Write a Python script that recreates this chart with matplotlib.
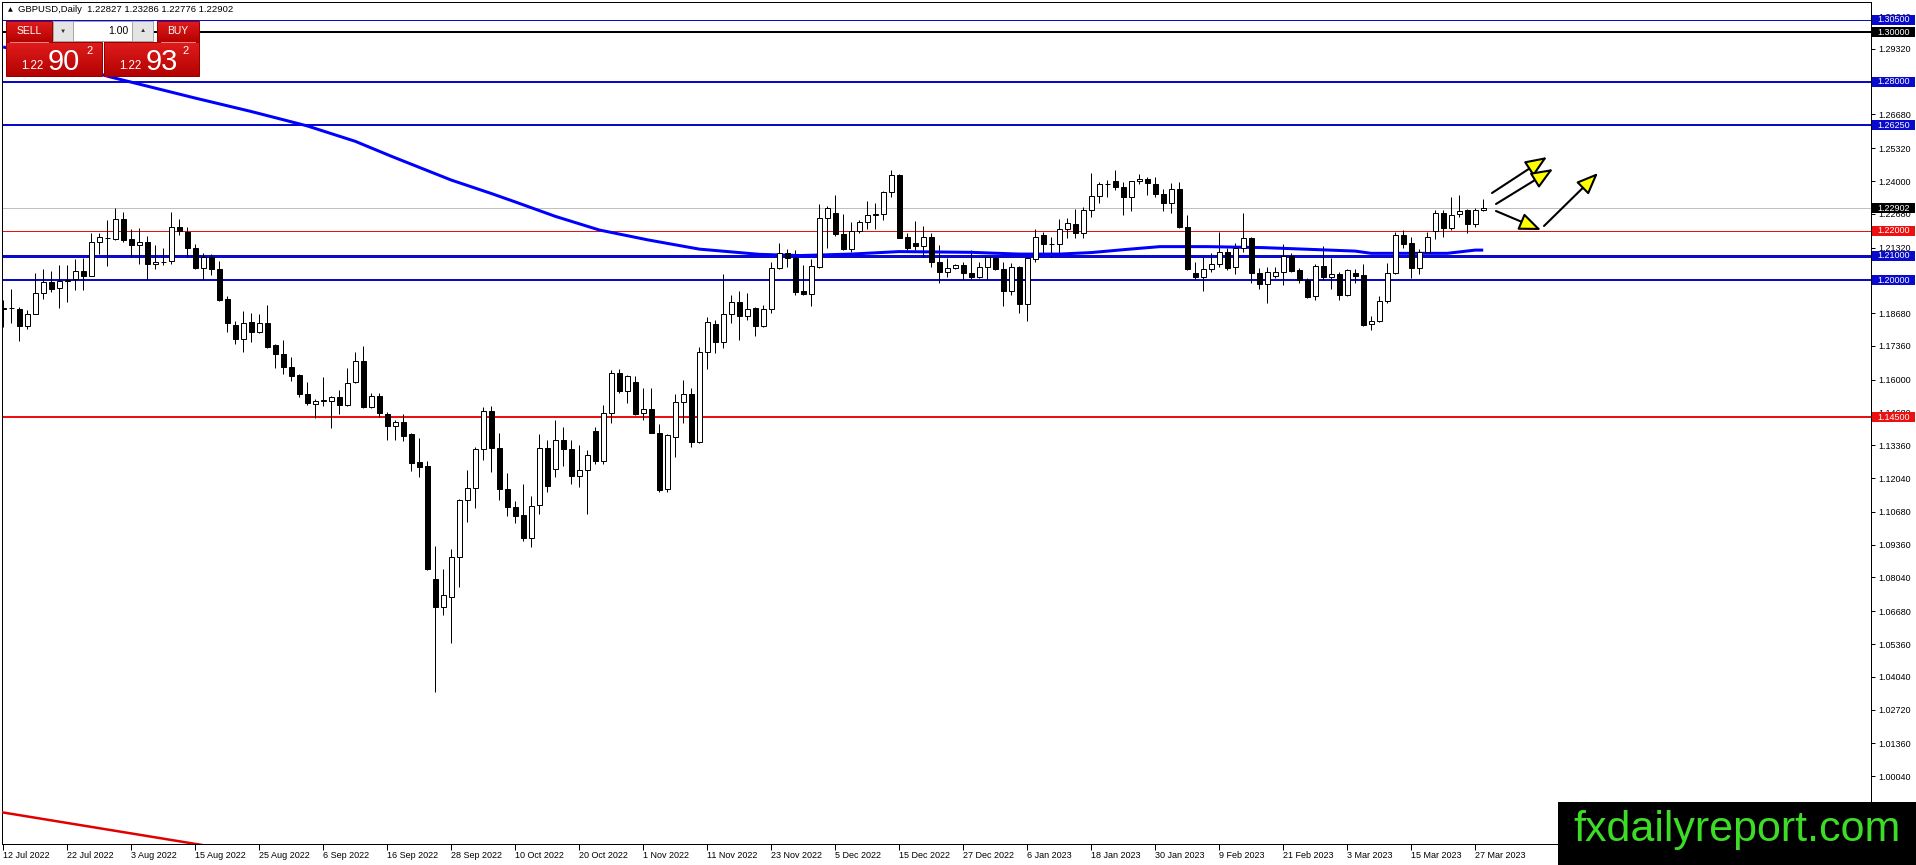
import matplotlib
matplotlib.use("Agg")
import matplotlib.pyplot as plt
import matplotlib.transforms as mtransforms
from matplotlib.patches import Rectangle
from matplotlib.colors import LinearSegmentedColormap
import numpy as np

plt.rcParams['font.family'] = ['Liberation Sans', 'DejaVu Sans']

W, H = 1916, 865

# daily GBPUSD bars, 12 Jul 2022 .. 28 Mar 2023
opens = [1.1886, 1.1889, 1.1885, 1.1818, 1.1863, 1.1948, 1.1992, 1.1968, 1.1999, 1.2004,
         1.2038, 1.2019, 1.2153, 1.2170, 1.2165, 1.2246, 1.2165, 1.2141, 1.2156, 1.2065,
         1.2074, 1.2078, 1.2214, 1.2196, 1.2129, 1.2049, 1.2093, 1.2045, 1.1925, 1.1821,
         1.1763, 1.1831, 1.1791, 1.1827, 1.1739, 1.1704, 1.1650, 1.1619, 1.1541, 1.1501,
         1.1515, 1.1516, 1.1529, 1.1498, 1.1592, 1.1677, 1.1489, 1.1536, 1.1462, 1.1414,
         1.1429, 1.1380, 1.1268, 1.1253, 1.0798, 1.0684, 1.0727, 1.0885, 1.1116, 1.1166,
         1.1320, 1.1474, 1.1324, 1.1159, 1.1087, 1.1056, 1.0964, 1.1095, 1.1324, 1.1239,
         1.1358, 1.1320, 1.1214, 1.1237, 1.1394, 1.1274, 1.1468, 1.1626, 1.1556, 1.1590,
         1.1465, 1.1481, 1.1387, 1.1159, 1.1368, 1.1509, 1.1541, 1.1351, 1.1711, 1.1825,
         1.1753, 1.1865, 1.1912, 1.1858, 1.1888, 1.1818, 1.1884, 1.2049, 1.2109, 1.2089,
         1.1957, 1.1944, 1.2053, 1.2250, 1.2273, 1.2187, 1.2125, 1.2200, 1.2234, 1.2263,
         1.2266, 1.2357, 1.2424, 1.2173, 1.2149, 1.2140, 1.2176, 1.2075, 1.2035, 1.2049,
         1.2062, 1.2028, 1.2012, 1.2053, 1.2089, 1.2046, 1.1959, 1.2053, 1.1905, 1.2085,
         1.2183, 1.2146, 1.2145, 1.2206, 1.2226, 1.2190, 1.2283, 1.2340, 1.2388, 1.2400,
         1.2375, 1.2334, 1.2400, 1.2407, 1.2388, 1.2348, 1.2310, 1.2367, 1.2216, 1.2028,
         1.2015, 1.2045, 1.2065, 1.2113, 1.2053, 1.2129, 1.2169, 1.2028, 1.1984, 1.2019,
         1.2035, 1.2098, 1.2042, 1.2002, 1.1939, 1.2058, 1.2015, 1.2026, 1.1941, 1.2028,
         1.2022, 1.1823, 1.1838, 1.1918, 1.2031, 1.2183, 1.2149, 1.2049, 1.2116, 1.2200,
         1.2273, 1.2212, 1.2266, 1.2283, 1.2227, 1.22827]
highs = [1.1921, 1.1965, 1.1894, 1.1881, 1.2030, 1.2046, 1.2038, 1.2061, 1.2062, 1.2085,
         1.2089, 1.2190, 1.2192, 1.2243, 1.2290, 1.2277, 1.2206, 1.2210, 1.2180, 1.2143,
         1.2129, 1.2274, 1.2247, 1.2216, 1.2145, 1.2112, 1.2105, 1.2080, 1.1937, 1.1837,
         1.1877, 1.1867, 1.1865, 1.1901, 1.1743, 1.1760, 1.1693, 1.1622, 1.1590, 1.1523,
         1.1610, 1.1536, 1.1559, 1.1646, 1.1710, 1.1736, 1.1545, 1.1548, 1.1472, 1.1438,
         1.1462, 1.1384, 1.1364, 1.1273, 1.0932, 1.0838, 1.0919, 1.1120, 1.1237, 1.1331,
         1.1492, 1.1494, 1.1384, 1.1223, 1.1112, 1.1179, 1.1133, 1.1380, 1.1358, 1.1438,
         1.1411, 1.1358, 1.1337, 1.1317, 1.1411, 1.1498, 1.1639, 1.1643, 1.1619, 1.1615,
         1.1568, 1.1568, 1.1422, 1.1380, 1.1541, 1.1599, 1.1568, 1.1731, 1.1854, 1.1841,
         1.2026, 1.1941, 1.1957, 1.1948, 1.1894, 1.1901, 1.2075, 1.2149, 1.2126, 1.2122,
         1.2062, 1.2085, 1.2308, 1.2300, 1.2344, 1.2267, 1.2236, 1.2243, 1.2320, 1.2313,
         1.2361, 1.2444, 1.2428, 1.2190, 1.2239, 1.2220, 1.2190, 1.2143, 1.2089, 1.2066,
         1.2075, 1.2122, 1.2075, 1.2096, 1.2093, 1.2075, 1.2069, 1.2056, 1.2096, 1.2206,
         1.2196, 1.2176, 1.2246, 1.2250, 1.2286, 1.2297, 1.2431, 1.2398, 1.2404, 1.2444,
         1.2398, 1.2402, 1.2428, 1.2415, 1.2415, 1.2367, 1.2391, 1.2398, 1.2263, 1.2075,
         1.2093, 1.2109, 1.2196, 1.2129, 1.2149, 1.2270, 1.2176, 1.2049, 1.2053, 1.2053,
         1.2145, 1.2112, 1.2049, 1.2008, 1.2066, 1.2139, 1.2089, 1.2035, 1.2046, 1.2046,
         1.2065, 1.1857, 1.1939, 1.2069, 1.2196, 1.2203, 1.2176, 1.2125, 1.2196, 1.2283,
         1.2283, 1.2337, 1.2344, 1.2286, 1.2290, 1.23286]
lows = [1.1814, 1.1827, 1.1757, 1.1803, 1.1863, 1.1924, 1.1952, 1.1888, 1.1914, 1.1961,
        1.1961, 1.2019, 1.2106, 1.2058, 1.2163, 1.2156, 1.2096, 1.2066, 1.2004, 1.2045,
        1.2062, 1.2066, 1.2183, 1.2096, 1.2045, 1.2004, 1.2022, 1.1918, 1.1791, 1.1743,
        1.1713, 1.1753, 1.1787, 1.1729, 1.1646, 1.1622, 1.1596, 1.1532, 1.1498, 1.1445,
        1.1494, 1.1404, 1.1461, 1.1494, 1.1588, 1.1486, 1.1485, 1.1451, 1.1357, 1.1357,
        1.1355, 1.1233, 1.1210, 1.0836, 1.0344, 1.0653, 1.0542, 1.0764, 1.1026, 1.1085,
        1.1277, 1.1227, 1.1116, 1.1053, 1.1022, 1.0952, 1.0925, 1.1058, 1.1150, 1.1210,
        1.1253, 1.1180, 1.1170, 1.1060, 1.1260, 1.1260, 1.1427, 1.1548, 1.1505, 1.1458,
        1.1438, 1.1384, 1.1150, 1.1147, 1.1290, 1.1427, 1.1331, 1.1345, 1.1643, 1.1709,
        1.1727, 1.1830, 1.1760, 1.1841, 1.1778, 1.1812, 1.1870, 1.2045, 1.2055, 1.1941,
        1.1942, 1.1898, 1.2049, 1.2129, 1.2179, 1.2122, 1.2116, 1.2190, 1.2206, 1.2207,
        1.2243, 1.2337, 1.2170, 1.2122, 1.2122, 1.2096, 1.2055, 1.1991, 1.2015, 1.2045,
        1.2006, 1.2006, 1.2008, 1.2006, 1.2042, 1.1898, 1.1941, 1.1867, 1.1838, 1.2075,
        1.2109, 1.2096, 1.2102, 1.2169, 1.2169, 1.2169, 1.2254, 1.2310, 1.2337, 1.2364,
        1.2263, 1.2281, 1.2390, 1.2344, 1.2337, 1.2281, 1.2270, 1.2212, 1.2042, 1.2004,
        1.1959, 1.2035, 1.2053, 1.2042, 1.2026, 1.2116, 1.1988, 1.1964, 1.1910, 1.2008,
        1.1981, 1.2035, 1.1988, 1.1928, 1.1921, 1.2002, 1.1964, 1.1921, 1.1939, 1.1991,
        1.1818, 1.1800, 1.1834, 1.1908, 1.2026, 1.2132, 1.2008, 1.2026, 1.2109, 1.2165,
        1.2176, 1.2203, 1.2257, 1.2190, 1.2216, 1.22776]
closes = [1.1890, 1.1887, 1.1818, 1.1863, 1.1948, 1.1992, 1.1967, 1.1999, 1.2001, 1.2038,
          1.2019, 1.2153, 1.2173, 1.2172, 1.2246, 1.2163, 1.2141, 1.2156, 1.2065, 1.2074,
          1.2075, 1.2214, 1.2200, 1.2129, 1.2049, 1.2093, 1.2045, 1.1921, 1.1827, 1.1763,
          1.1830, 1.1791, 1.1827, 1.1733, 1.1702, 1.1650, 1.1616, 1.1541, 1.1505, 1.1514,
          1.1517, 1.1529, 1.1498, 1.1586, 1.1677, 1.1489, 1.1536, 1.1465, 1.1414, 1.1429,
          1.1375, 1.1266, 1.1250, 1.0838, 1.0687, 1.0734, 1.0888, 1.1116, 1.1163, 1.1320,
          1.1474, 1.1324, 1.1159, 1.1089, 1.1053, 1.0964, 1.1093, 1.1324, 1.1172, 1.1358,
          1.1320, 1.1214, 1.1237, 1.1297, 1.1274, 1.1468, 1.1626, 1.1556, 1.1615, 1.1462,
          1.1481, 1.1387, 1.1156, 1.1378, 1.1509, 1.1541, 1.1351, 1.1711, 1.1831, 1.1753,
          1.1865, 1.1912, 1.1858, 1.1884, 1.1818, 1.1884, 1.2049, 1.2109, 1.2089, 1.1955,
          1.1946, 1.2058, 1.2250, 1.2290, 1.2185, 1.2125, 1.2200, 1.2234, 1.2263, 1.2266,
          1.2357, 1.2424, 1.2172, 1.2132, 1.2140, 1.2176, 1.2075, 1.2035, 1.2049, 1.2062,
          1.2028, 1.2015, 1.2053, 1.2093, 1.2045, 1.1959, 1.2053, 1.1905, 1.2089, 1.2176,
          1.2147, 1.2145, 1.2206, 1.2230, 1.2192, 1.2283, 1.2340, 1.2388, 1.2390, 1.2375,
          1.2334, 1.2400, 1.2407, 1.2391, 1.2347, 1.2313, 1.2367, 1.2216, 1.2046, 1.2012,
          1.2045, 1.2065, 1.2113, 1.2049, 1.2129, 1.2169, 1.2028, 1.1984, 1.2035, 1.2035,
          1.2098, 1.2039, 1.2002, 1.1935, 1.2058, 1.2015, 1.2024, 1.1941, 1.2042, 1.2019,
          1.1820, 1.1838, 1.1918, 1.2028, 1.2183, 1.2147, 1.2049, 1.2116, 1.2173, 1.2273,
          1.2212, 1.2263, 1.2281, 1.2227, 1.2283, 1.22902]

date_labels = ["12 Jul 2022", "22 Jul 2022", "3 Aug 2022", "15 Aug 2022", "25 Aug 2022",
               "6 Sep 2022", "16 Sep 2022", "28 Sep 2022", "10 Oct 2022", "20 Oct 2022",
               "1 Nov 2022", "11 Nov 2022", "23 Nov 2022", "5 Dec 2022", "15 Dec 2022",
               "27 Dec 2022", "6 Jan 2023", "18 Jan 2023", "30 Jan 2023", "9 Feb 2023",
               "21 Feb 2023", "3 Mar 2023", "15 Mar 2023", "27 Mar 2023"]

# moving average (blue curve), sampled along the line
ma_idx = [0, 13.4, 24, 31, 38, 44, 48.5, 56, 61, 64, 69, 74.5, 80.6, 87, 94.5, 99.6, 106,
          112, 121, 127, 132, 136, 140.5, 144.6, 150.5, 157.5, 162.5, 169, 171, 180.5, 184, 185]
ma_val = [1.2940, 1.2819, 1.2734, 1.2680, 1.2622, 1.2560, 1.2500, 1.2404, 1.2350, 1.2316,
          1.2258, 1.2203, 1.2163, 1.2126, 1.2105, 1.2100, 1.2106, 1.2116, 1.2113, 1.2106,
          1.2106, 1.2112, 1.2125, 1.2136, 1.2136, 1.2132, 1.2126, 1.2118, 1.2109, 1.2109,
          1.2122, 1.2122]

# trend line bottom-left
trend_x = [-0.4, 30]
trend_y = [0.9860, 0.9700]

ytick_vals = [1.30640, 1.29320, 1.28000, 1.26680, 1.25320, 1.24000, 1.22680, 1.21320,
              1.20000, 1.18680, 1.17360, 1.16000, 1.14680, 1.13360, 1.12040, 1.10680,
              1.09360, 1.08040, 1.06680, 1.05360, 1.04040, 1.02720, 1.01360, 1.00040]

BLUE = '#0a0acd'
RED = '#ec1010'
# level, colour, linewidth(px)
levels = [(1.30500, BLUE, 1), (1.30000, 'black', 2), (1.28000, BLUE, 2), (1.26250, BLUE, 2),
          (1.22000, RED, 1), (1.21000, BLUE, 3), (1.20000, BLUE, 2), (1.14500, RED, 2)]
last_price = 1.22902

fig = plt.figure(figsize=(W / 100, H / 100), dpi=100)
fig.patch.set_facecolor('white')
ax_l, ax_r, ax_t, ax_b = 2, 1871, 2, 844
ax = fig.add_axes([ax_l / W, (H - ax_b) / H, (ax_r - ax_l) / W, (ax_b - ax_t) / H])
px = 0.72  # one pixel in points

n = len(opens)
idx = np.arange(n)
o = np.array(opens); c = np.array(closes)
hi = np.array(highs); lo = np.array(lows)
up = c >= o

ax.axhline(last_price, color='#c0c0c0', lw=px, zorder=1)
for lev, col, lw in levels:
    ax.axhline(lev, color=col, lw=lw * px, zorder=1.5)

ax.vlines(idx, lo, hi, color='black', lw=px, zorder=3)
body_lo = np.minimum(o, c)
body_h = np.maximum(np.abs(c - o), 0.00002)
ax.bar(idx[up], body_h[up], bottom=body_lo[up], width=0.6, color='white',
       edgecolor='black', linewidth=px, zorder=4)
ax.bar(idx[~up], body_h[~up], bottom=body_lo[~up], width=0.6, color='black',
       edgecolor='black', linewidth=px, zorder=4)

ax.plot(ma_idx, ma_val, color='#0000ff', lw=3 * px, zorder=3.5, solid_capstyle='butt',
        solid_joinstyle='round')
ax.plot(trend_x, trend_y, color='#e00000', lw=2.5 * px, zorder=3)

ax.set_xlim(-0.15, (ax_r - ax_l) / 8 - 0.15)
ax.set_ylim(1.30 - (ax_b - 32) / 2484, 1.30 + (32 - ax_t) / 2484)

ax.set_xticks(np.arange(len(date_labels)) * 8)
ax.set_xticklabels(date_labels)
for lbl in ax.get_xticklabels():
    lbl.set_ha('left')
ax.tick_params(axis='x', length=4, width=px, pad=1, labelsize=6.5, direction='out')

ax.yaxis.tick_right()
ax.set_yticks(ytick_vals)
ax.set_yticklabels(['%.5f' % v for v in ytick_vals])
ax.tick_params(axis='y', length=3, width=px, pad=2.5, labelsize=6.5)
for s in ax.spines.values():
    s.set_linewidth(px)
    s.set_color('black')

# price labels on the right scale
blend = mtransforms.blended_transform_factory(ax.transAxes, ax.transData)
box_w = (1914 - ax_r) / (ax_r - ax_l)
box_h = 10 / 2484
tags = [(1.30500, BLUE), (1.30000, 'black'), (1.28000, BLUE), (1.26250, BLUE),
        (last_price, 'black'), (1.22000, RED), (1.21000, BLUE), (1.20000, BLUE),
        (1.14500, RED)]
for val, col in tags:
    ax.add_patch(Rectangle((1.0005, val - box_h / 2), box_w, box_h, transform=blend,
                           facecolor=col, edgecolor='none', clip_on=False, zorder=6))
    ax.text(1.0 + 6 / (ax_r - ax_l), val, '%.5f' % val, transform=blend, color='white',
            fontsize=6.5, ha='left', va='center', clip_on=False, zorder=7)

# overlay in pixel coordinates
ov = fig.add_axes([0, 0, 1, 1], zorder=10)
ov.set_xlim(0, W)
ov.set_ylim(H, 0)
ov.axis('off')

red_cmap = LinearSegmentedColormap.from_list('btn', ['#e01c1c', '#b40202'])
grad = np.linspace(0, 1, 64).reshape(-1, 1)


def red_box(x0, y0, w, h):
    ov.imshow(grad, extent=(x0, x0 + w, y0 + h, y0), cmap=red_cmap, aspect='auto',
              interpolation='bilinear', zorder=2)
    ov.add_patch(Rectangle((x0, y0), w, h, fill=False, edgecolor='#9a0000', lw=px, zorder=3))


red_box(6, 21, 46, 21)
red_box(6, 42, 96, 34)
red_box(157, 21, 42, 21)
red_box(104, 42, 95, 34)
ov.plot([10, 48], [41.5, 41.5], color='#f08080', lw=px, zorder=4)
ov.plot([161, 195], [41.5, 41.5], color='#f08080', lw=px, zorder=4)

ov.add_patch(Rectangle((53, 21), 100, 20, facecolor='white', edgecolor='#a0a0a0', lw=px, zorder=2))
ov.add_patch(Rectangle((53, 21), 20, 20, facecolor='#e4e4e4', edgecolor='#a8a8a8', lw=px, zorder=3))
ov.add_patch(Rectangle((132, 21), 21, 20, facecolor='#e4e4e4', edgecolor='#a8a8a8', lw=px, zorder=3))
ov.text(63, 31, '\u25bc', fontsize=4.5, ha='center', va='center', color='#303030', zorder=5)
ov.text(142.5, 31, '\u25b2', fontsize=4.5, ha='center', va='center', color='#303030', zorder=5)
ov.text(128, 31, '1.00', fontsize=7.5, ha='right', va='center', color='black', zorder=5)

ov.text(29, 31.5, 'SELL', fontsize=7.5, ha='center', va='center', color='white', zorder=5)
ov.text(178, 31.5, 'BUY', fontsize=7.5, ha='center', va='center', color='white', zorder=5)
for x_small, x_big, x_sup, big in [(21, 48, 86, '90'), (119, 146, 182, '93')]:
    ov.text(x_small, 69, '1.22', fontsize=8.3, ha='left', va='baseline', color='white', zorder=5)
    ov.text(x_big, 70, big, fontsize=21, ha='left', va='baseline', color='white', zorder=5)
    ov.text(x_sup, 46, '2', fontsize=8, ha='left', va='top', color='white', zorder=5)

ov.text(8, 10, '\u25b2', fontsize=4.5, ha='left', va='center', color='black',
        family='DejaVu Sans')
ov.text(18, 10, 'GBPUSD,Daily  1.22827 1.23286 1.22776 1.22902', fontsize=6.8,
        ha='left', va='center', color='black')

# forecast arrows
arrows = [((1492, 193), (1547, 157)), ((1496, 204), (1553, 169)),
          ((1496, 211), (1541, 230)), ((1544, 226), (1598, 173))]
for tail, tip in arrows:
    ov.annotate('', xy=tip, xytext=tail,
                arrowprops=dict(arrowstyle='-|>,head_length=1.1,head_width=0.45',
                                facecolor='#ffff00', edgecolor='black', lw=1.5,
                                mutation_scale=12, shrinkA=0, shrinkB=0))

# watermark
ov.add_patch(Rectangle((1558, 802), W - 1558, H - 802, facecolor='black', edgecolor='none', zorder=6))
ov.text(1737, 830, 'fxdailyreport.com', fontsize=31, color='#3ddc26', ha='center',
        va='center', zorder=7)

fig.savefig('out.png', dpi=100)
